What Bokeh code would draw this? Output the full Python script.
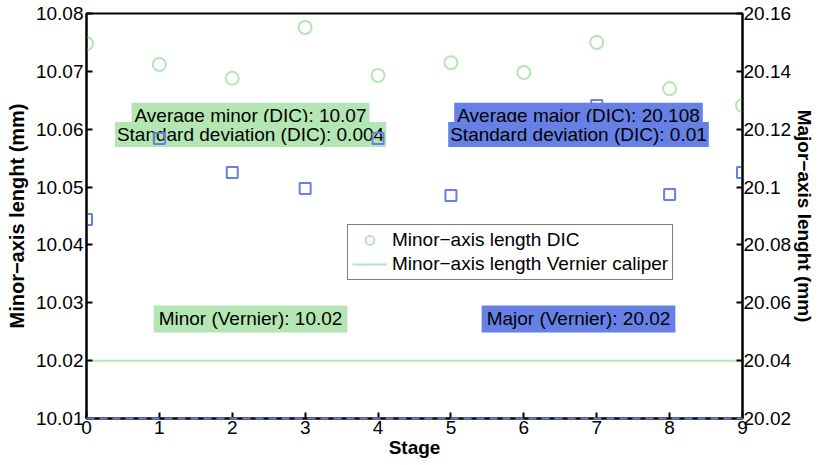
from bokeh.plotting import figure
from bokeh.models import (Range1d, LinearAxis, FixedTicker, CustomJSTickFormatter,
                          Label, Legend, LegendItem)
from bokeh.embed import file_html
from bokeh.resources import INLINE

# Measurement data per loading stage
stages = [0, 1, 2, 3, 4, 5, 6, 7, 8, 9]
minor_dic = [10.0748, 10.0712, 10.0688, 10.0776, 10.0693, 10.0715, 10.0698, 10.0750, 10.0670, 10.0641]
major_dic = [20.0888, 20.1168, 20.1050, 20.0995, 20.1168, 20.0971, 20.1254, 20.1282, 20.0974, 20.1050]
minor_vernier = 10.02
major_vernier = 20.02

# Axis ticks
minor_ticks = [10.01, 10.02, 10.03, 10.04, 10.05, 10.06, 10.07, 10.08]
major_ticks = [20.02, 20.04, 20.06, 20.08, 20.10, 20.12, 20.14, 20.16]

# Annotation texts
avg_minor_text = "Average minor (DIC): 10.07"
std_minor_text = "Standard deviation (DIC): 0.004"
avg_major_text = "Average major (DIC): 20.108"
std_major_text = "Standard deviation (DIC): 0.01"
vern_minor_text = "Minor (Vernier): 10.02"
vern_major_text = "Major (Vernier): 20.02"

GREEN = "#b3e6b3"
BLUE = "#6680e6"
FONT = "Liberation Sans"

p = figure(width=819, height=465, output_backend="svg", toolbar_location=None,
           x_range=Range1d(0, 9), y_range=Range1d(10.01, 10.08),
           min_border_left=86, min_border_right=77, min_border_top=13, min_border_bottom=47)
p.extra_y_ranges = {"major": Range1d(20.02, 20.16)}
p.grid.visible = False
p.background_fill_color = "white"
p.border_fill_color = "white"
p.outline_line_color = "black"
p.outline_line_width = 2

right = LinearAxis(y_range_name="major")
p.add_layout(right, "right")

for ax in [p.xaxis[0], p.yaxis[0], right]:
    ax.axis_line_width = 2
    ax.axis_line_color = "black"
    ax.major_tick_line_width = 2
    ax.major_tick_in = 6
    ax.major_tick_out = 0
    ax.minor_tick_line_color = None
    ax.major_label_text_font = FONT
    ax.major_label_text_font_size = "19px"
    ax.major_label_text_color = "black"
    ax.major_label_standoff = 3
    ax.axis_label_text_font = FONT
    ax.axis_label_text_font_style = "bold"
    ax.axis_label_text_font_size = "20px"
    ax.axis_label_text_color = "black"
    ax.axis_label_standoff = 5

p.xaxis[0].ticker = FixedTicker(ticks=stages)
p.xaxis[0].axis_label = "Stage"
p.xaxis[0].axis_label_text_font_size = "19px"
p.xaxis[0].axis_label_standoff = 0
p.xaxis[0].major_label_standoff = 2

p.yaxis[0].ticker = FixedTicker(ticks=minor_ticks)
p.yaxis[0].formatter = CustomJSTickFormatter(code="return tick.toFixed(2);")
p.yaxis[0].axis_label = "Minor\u2212axis lenght (mm)"

right.ticker = FixedTicker(ticks=major_ticks)
right.formatter = CustomJSTickFormatter(code="return parseFloat(tick.toFixed(2)).toString();")
right.axis_label = "Major\u2212axis lenght (mm)"
right.axis_label_text_font_size = "19px"
right.major_label_standoff = 1
right.axis_label_standoff = 0


def box_label(x, y, text, color, pad, level="annotation"):
    lab = Label(x=x, y=y, text=text,
                text_font=FONT, text_font_size="19px", text_color="black",
                text_align="center", text_baseline="middle",
                background_fill_color=color, background_fill_alpha=1.0,
                border_line_color=None, padding=pad, level=level)
    p.add_layout(lab)
    return lab


# Minor-axis annotations sit beneath the major-axis markers
box_label(2.25, 10.0624, avg_minor_text, GREEN, (3, 2), level="underlay")
box_label(2.25, 10.0591, std_minor_text, GREEN, (2, 2), level="underlay")
box_label(2.25, 10.0272, vern_minor_text, GREEN, (5, 3), level="underlay")

# Minor axis: DIC measurements and caliper reference
circ = p.scatter(stages, minor_dic, marker="circle", size=13, fill_color=None,
                 line_color=GREEN, line_width=2)
vline = p.line(stages, [minor_vernier] * len(stages), line_color=GREEN, line_width=2)

# Major axis: DIC measurements and caliper reference
p.scatter(stages, major_dic, marker="square", size=11, fill_color=None,
          line_color=BLUE, line_width=2, y_range_name="major")
p.line(stages, [major_vernier] * len(stages), line_color=BLUE, line_width=2,
       line_dash="8 5", y_range_name="major", level="overlay")

# Major-axis annotations are drawn over its markers
box_label(6.75, 10.0624, avg_major_text, BLUE, (3, 2))
box_label(6.75, 10.0591, std_major_text, BLUE, (2, 2))
box_label(6.75, 10.0272, vern_major_text, BLUE, (5, 3))

legend = Legend(items=[LegendItem(label="Minor\u2212axis length DIC", renderers=[circ]),
                       LegendItem(label="Minor\u2212axis length Vernier caliper", renderers=[vline])],
                location=(261, 138), label_text_font=FONT, label_text_font_size="19px",
                label_text_color="black", glyph_width=35, glyph_height=22, label_height=22,
                label_standoff=5, spacing=2, padding=4, margin=0,
                border_line_color="black", border_line_width=1,
                background_fill_color="white", background_fill_alpha=1.0)
p.add_layout(legend)

open("out.html", "w").write(file_html(p, INLINE))
